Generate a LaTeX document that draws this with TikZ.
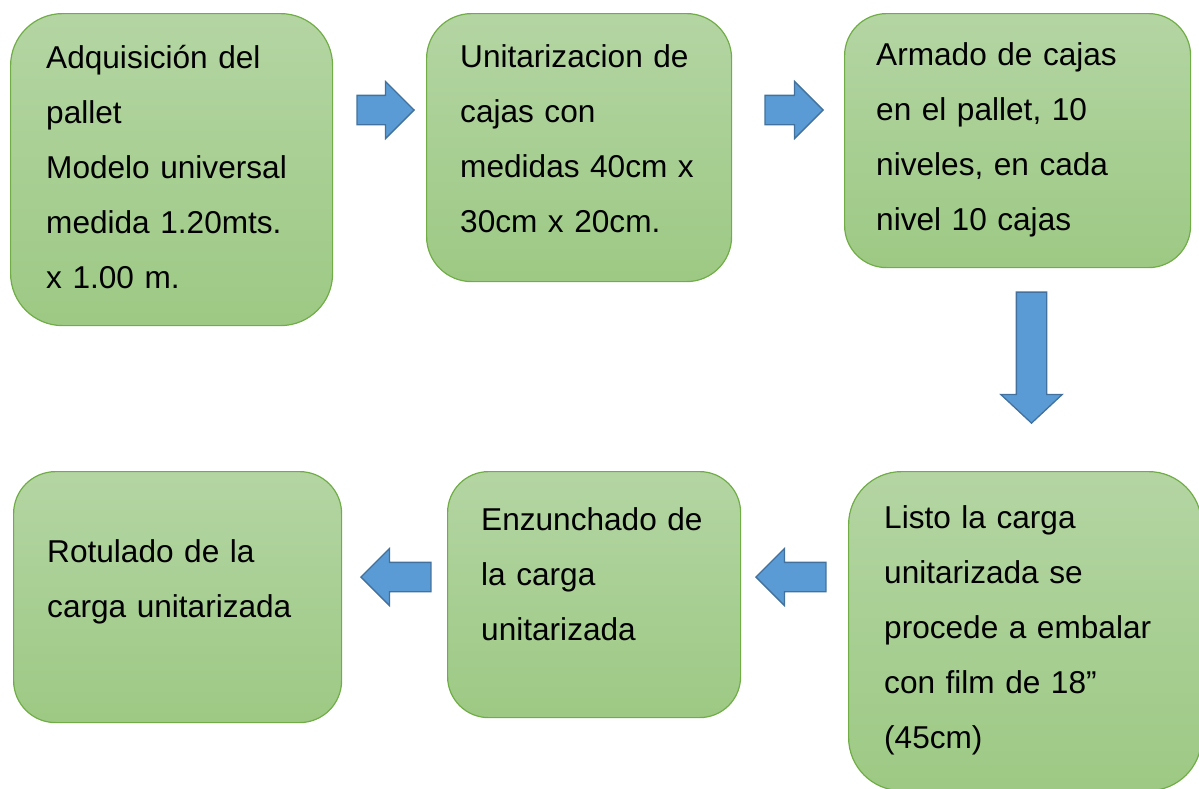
\documentclass[tikz,border=0pt]{standalone}
\usepackage{fontspec}
\setmainfont{Liberation Sans}
\usetikzlibrary{shapes.arrows}
\definecolor{boxtop}{HTML}{B4D5A3}
\definecolor{boxbot}{HTML}{9DC984}
\definecolor{boxline}{HTML}{70AD47}
\definecolor{arrfill}{HTML}{5B9BD5}
\definecolor{arrline}{HTML}{41719C}
\begin{document}
\begin{tikzpicture}[x=1pt,y=-1pt,
  paso/.style={draw=boxline, line width=1.2pt, top color=boxtop, bottom color=boxbot, anchor=north west, inner sep=0pt},
  txt/.style={anchor=base west, inner sep=0pt, text width=300pt, align=left, font=\fontsize{31.6}{55}\selectfont},
  flecha/.style={single arrow, draw=arrline, fill=arrfill, line width=1.3pt, inner sep=14pt, single arrow head extend=14pt, single arrow tip angle=90, minimum width=0pt, anchor=tip}]
\useasboundingbox (0,0) rectangle (1199,788);
\node[paso, minimum width=322pt, minimum height=312pt, rounded corners=52pt] (b1) at (10,13) {};
\node[paso, minimum width=305pt, minimum height=268pt, rounded corners=45pt] (b2) at (426,13) {};
\node[paso, minimum width=346pt, minimum height=254pt, rounded corners=42pt] (b3) at (844,13) {};
\node[paso, minimum width=353pt, minimum height=319pt, rounded corners=53pt] (b4) at (848,471) {};
\node[paso, minimum width=293pt, minimum height=246pt, rounded corners=41pt] (b5) at (447,471) {};
\node[paso, minimum width=328pt, minimum height=251pt, rounded corners=42pt] (b6) at (13,471) {};
\node[txt] (t1) at ([shift={(36,55)}]b1.north west) {Adquisición del\\pallet\\Modelo universal\\medida 1.20mts.\\x 1.00 m.};
\node[txt] (t2) at ([shift={(34,54)}]b2.north west) {Unitarizacion de\\cajas con\\medidas 40cm x\\30cm x 20cm.};
\node[txt] (t3) at ([shift={(32,52)}]b3.north west) {Armado de cajas\\en el pallet, 10\\niveles, en cada\\nivel 10 cajas};
\node[txt] (t4) at ([shift={(36,57)}]b4.north west) {Listo la carga\\unitarizada se\\procede a embalar\\con film de 18”\\(45cm)};
\node[txt] (t5) at ([shift={(34,59)}]b5.north west) {Enzunchado de\\la carga\\unitarizada};
\node[txt] (t6) at ([shift={(34,91)}]b6.north west) {Rotulado de la\\carga unitarizada};
\node[flecha, minimum height=57pt] (a1) at (415,110) {};
\node[flecha, minimum height=58pt] (a2) at (824,110) {};
\node[flecha, minimum height=131pt, shape border rotate=270, inner sep=14.5pt, single arrow head extend=15.5pt, single arrow tip angle=94] (a3) at (1031.5,424) {};
\node[flecha, minimum height=70pt, shape border rotate=180] (a4) at (755,577) {};
\node[flecha, minimum height=70pt, shape border rotate=180] (a5) at (360,577) {};
\end{tikzpicture}
\end{document}
